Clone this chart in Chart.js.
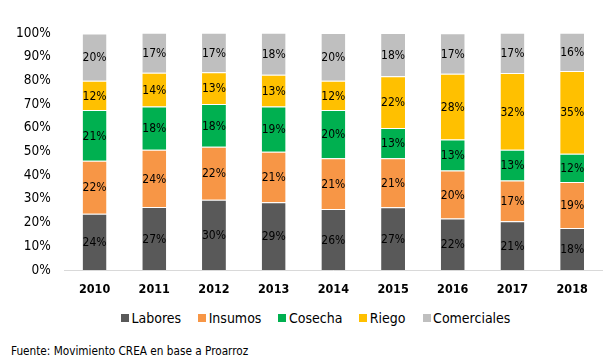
<!DOCTYPE html>
<html><head><meta charset="utf-8">
<script src="https://cdn.jsdelivr.net/npm/chart.js@4/dist/chart.umd.min.js"></script>
<style>
html,body{margin:0;padding:0;background:#fff;}
#wrap{position:relative;width:612px;height:359px;overflow:hidden;}
#box{position:absolute;left:0;top:0;width:612px;height:309px;}
#legend{position:absolute;left:121px;top:310px;display:flex;align-items:center;font-family:"DejaVu Sans Condensed","DejaVu Sans",sans-serif;font-size:14px;color:#000;white-space:nowrap;}
#legend .it{display:flex;align-items:center;margin-right:17px;}
#legend .sw{width:8px;height:8px;margin-right:2.5px;}
#src{position:absolute;left:11px;top:344px;font-family:"DejaVu Sans Condensed","DejaVu Sans",sans-serif;font-size:11.7px;color:#000;}
</style></head>
<body>
<div id="wrap"><div id="box"><canvas id="c"></canvas></div>
<div id="legend"></div>
<div id="src">Fuente: Movimiento CREA en base a Proarroz</div></div>
<script>
const years = ["2010","2011","2012","2013","2014","2015","2016","2017","2018"];
const seriesNames = ["Labores","Insumos","Cosecha","Riego","Comerciales"];
const labores     = [23.7, 26.6, 29.6, 28.6, 25.7, 26.5, 21.7, 20.6, 17.7];
const insumos     = [22.4, 24.1, 22.4, 21.3, 21.4, 20.6, 20.3, 17.2, 19.4];
const cosecha     = [21.4, 18.3, 18.0, 19.1, 20.4, 12.8, 13.1, 12.9, 12.0];
const riego       = [12.3, 14.2, 13.4, 13.4, 12.3, 21.9, 27.7, 32.4, 34.9];
const comerciales = [20.0, 16.9, 16.7, 17.7, 20.2, 18.2, 17.1, 17.0, 16.1];
const yTicks = [0,10,20,30,40,50,60,70,80,90,100];
const colors = ['#595959','#F79646','#00B050','#FFC000','#BFBFBF'];

const FONT = '"DejaVu Sans Condensed","DejaVu Sans",sans-serif';

const labelPlugin = {
  id:'segLabels',
  afterDatasetsDraw(chart){
    const ctx = chart.ctx;
    ctx.save();
    ctx.font = '12px ' + FONT;
    ctx.fillStyle = '#000';
    ctx.textAlign = 'center';
    ctx.textBaseline = 'middle';
    chart.data.datasets.forEach((ds, i) => {
      const meta = chart.getDatasetMeta(i);
      meta.data.forEach((bar, j) => {
        const v = ds.data[j];
        const y = (bar.y + bar.base) / 2;
        ctx.fillText(Math.round(v) + '%', bar.x, y + 1);
      });
    });
    ctx.restore();
  }
};

const mk = (i, data) => ({label: seriesNames[i], data, backgroundColor: colors[i],
  borderColor:'rgba(255,255,255,0.45)', borderWidth:{top:1,bottom:0,left:0,right:0},
  barPercentage:0.4, categoryPercentage:1.0});

const chart = new Chart(document.getElementById('c'), {
  type:'bar',
  data:{
    labels: years,
    datasets:[ mk(0, labores), mk(1, insumos), mk(2, cosecha), mk(3, riego), mk(4, comerciales) ]
  },
  options:{
    responsive:true, maintainAspectRatio:false, animation:false,
    layout:{padding:{left:2, right:10, top:33, bottom:0}},
    plugins:{ legend:{display:false}, tooltip:{enabled:false} },
    scales:{
      x:{stacked:true, grid:{display:false, drawTicks:false}, border:{color:'#d9d9d9'},
         ticks:{font:{family:FONT,size:12.5,weight:'bold'}, color:'#000', padding:12}},
      y:{stacked:true, min:0, max:100, afterBuildTicks(ax){ ax.ticks = yTicks.map(v=>({value:v})); },
         grid:{display:false, drawTicks:false}, border:{display:false},
         ticks:{font:{family:FONT,size:13.5}, color:'#000', padding:14, callback:v=>v+'%'}}
    }
  },
  plugins:[labelPlugin]
});

// legend built from the chart's datasets
const lg = document.getElementById('legend');
chart.data.datasets.forEach(ds => {
  const it = document.createElement('div'); it.className = 'it';
  const sw = document.createElement('span'); sw.className = 'sw'; sw.style.background = ds.backgroundColor;
  const tx = document.createElement('span'); tx.textContent = ds.label;
  it.appendChild(sw); it.appendChild(tx); lg.appendChild(it);
});
</script>
</body></html>
